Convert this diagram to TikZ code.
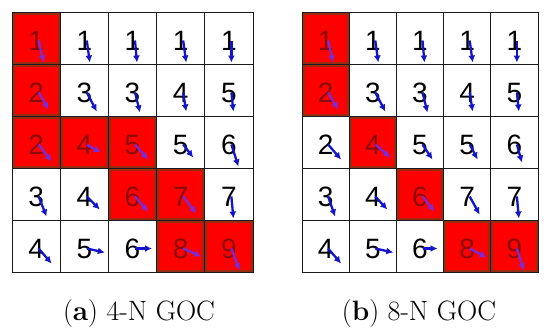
\documentclass[tikz,border=0pt]{standalone}
\usepackage{fontspec}
\newfontfamily\cellfont{Liberation Sans}
\usetikzlibrary{arrows.meta,calc}
\definecolor{Ink}{HTML}{1A1A1A}
\definecolor{Flow}{HTML}{1414C8}
\definecolor{FlowHot}{HTML}{7A2BD8}
\definecolor{Hot}{HTML}{FF0000}
\definecolor{HotEdge}{HTML}{9A2A10}
\definecolor{InkHot}{HTML}{8A0A0A}
\tikzset{
  gridline/.style={draw=Ink,line width=1pt},
  hotcell/.style={fill=Hot,draw=HotEdge,line width=2pt},
  digit/.style={font=\cellfont\fontsize{28}{28}\selectfont,inner sep=0pt},
  flowarrow/.style={-{Latex[length=7pt,width=7pt]},line width=2.3pt},
  caption/.style={font=\fontsize{28}{32}\selectfont,anchor=base}
}
\begin{document}
\begin{tikzpicture}[x=1pt,y=-1pt]
  \useasboundingbox[fill=white] (0,0) rectangle (550,335);
  % (a) 4-N GOC
  \foreach \r/\c/\v/\dx/\dy/\hot in {
      1/1/1/5/22/1, 1/2/1/3/22/0, 1/3/1/2/22/0, 1/4/1/3/22/0, 1/5/1/0/22/0,
      2/1/2/10/17/1, 2/2/3/10/19/0, 2/3/3/5/20/0, 2/4/4/3/19/0, 2/5/5/2/19/0,
      3/1/2/13/17/1, 3/2/4/14/8/1, 3/3/5/13/15/1, 3/4/5/10/13/0, 3/5/6/7/22/0,
      4/1/3/8/20/0, 4/2/4/13/13/0, 4/3/6/13/15/1, 4/4/7/13/17/1, 4/5/7/2/22/0,
      5/1/4/13/15/0, 5/2/5/18/4/0, 5/3/6/17/0/0, 5/4/8/18/8/1, 5/5/9/8/22/1} {
    \coordinate (a-\r-\c) at ({12+(\c-0.5)*48.2},{12+(\r-0.5)*52});
    \ifnum\hot=1
      \def\dcol{InkHot}\def\acol{FlowHot}
      \draw[hotcell] ($(a-\r-\c)+(-22.6,-24.5)$) rectangle ($(a-\r-\c)+(22.6,24.5)$);
    \else
      \def\dcol{black}\def\acol{Flow}
    \fi
    \draw[gridline] ($(a-\r-\c)+(-24.1,-26)$) rectangle ($(a-\r-\c)+(24.1,26)$);
    \node[digit,text=\dcol] (na-\r-\c) at ($(a-\r-\c)+(0,3)$) {\v};
    \draw[flowarrow,draw=\acol] ($(a-\r-\c)+(2.5,2.5)$) -- ++(\dx,\dy);
  }
  % (b) 8-N GOC
  \foreach \r/\c/\v/\dx/\dy/\hot in {
      1/1/1/5/22/1, 1/2/1/3/22/0, 1/3/1/2/22/0, 1/4/1/3/22/0, 1/5/1/0/22/0,
      2/1/2/10/17/1, 2/2/3/10/19/0, 2/3/3/5/20/0, 2/4/4/3/19/0, 2/5/5/2/19/0,
      3/1/2/13/15/0, 3/2/4/15/13/1, 3/3/5/10/15/0, 3/4/5/8/15/0, 3/5/6/5/18/0,
      4/1/3/7/20/0, 4/2/4/12/13/0, 4/3/6/12/15/1, 4/4/7/10/18/0, 4/5/7/2/22/0,
      5/1/4/13/15/0, 5/2/5/18/4/0, 5/3/6/15/0/0, 5/4/8/17/9/1, 5/5/9/7/22/1} {
    \coordinate (b-\r-\c) at ({302+(\c-0.5)*47.2},{12+(\r-0.5)*52});
    \ifnum\hot=1
      \def\dcol{InkHot}\def\acol{FlowHot}
      \draw[hotcell] ($(b-\r-\c)+(-22.1,-24.5)$) rectangle ($(b-\r-\c)+(22.1,24.5)$);
    \else
      \def\dcol{black}\def\acol{Flow}
    \fi
    \draw[gridline] ($(b-\r-\c)+(-23.6,-26)$) rectangle ($(b-\r-\c)+(23.6,26)$);
    \node[digit,text=\dcol] (nb-\r-\c) at ($(b-\r-\c)+(0,3)$) {\v};
    \draw[flowarrow,draw=\acol] ($(b-\r-\c)+(2.5,2.5)$) -- ++(\dx,\dy);
  }
  \node[caption] (capa) at (139,320) {(\textbf{a}) 4-N GOC};
  \node[caption] (capb) at (419,320) {(\textbf{b}) 8-N GOC};
\end{tikzpicture}
\end{document}
